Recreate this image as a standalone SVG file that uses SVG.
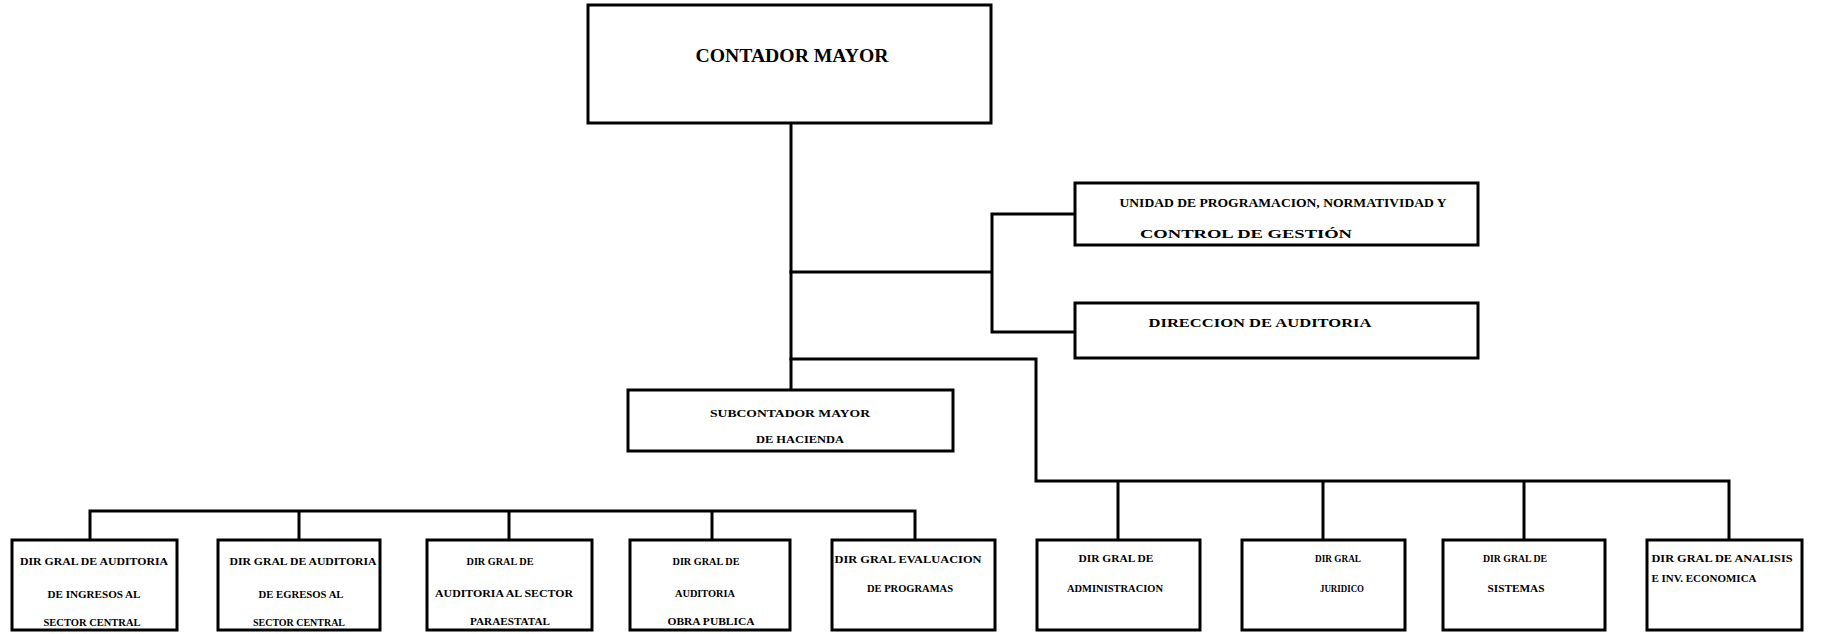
<svg xmlns="http://www.w3.org/2000/svg" width="1822" height="634" viewBox="0 0 1822 634">
  <style>
    .box { fill: #ffffff; stroke: #000000; stroke-width: 3; }
    .wire { fill: none; stroke: #000000; stroke-width: 3; stroke-linecap: square; }
    .t { font-family: "Liberation Serif", "Times New Roman", serif; font-weight: bold; fill: #000000; text-anchor: middle; }
    .big { font-size: 19px; }
    .mid { font-size: 12px; }
    .sm { font-size: 10.5px; }
  </style>
  <rect width="1822" height="634" fill="#ffffff"/>

  <!-- connectors -->
  <g id="connectors">
    <!-- main trunk -->
    <path class="wire" d="M791 123 V390"/>
    <!-- staff units -->
    <path class="wire" d="M791 272 H992 M992 214 V332 M992 214 H1075 M992 332 H1075"/>
    <!-- right-hand directorates -->
    <path class="wire" d="M791 359 H1036 V481 H1729 M1118 481 V540 M1323 481 V540 M1524 481 V540 M1729 481 V540"/>
    <!-- audit directorates -->
    <path class="wire" d="M90 511 H915 M90 511 V540 M299 511 V540 M509 511 V540 M712 511 V540 M915 511 V540"/>
  </g>

  <g id="contador-mayor">
    <rect class="box" x="588" y="5" width="403" height="118"/>
    <text class="t big" x="792" y="62" textLength="193" lengthAdjust="spacingAndGlyphs">CONTADOR MAYOR</text>
  </g>

  <g id="unidad-programacion">
    <rect class="box" x="1075" y="183" width="403" height="62"/>
    <text class="t mid" x="1283" y="207" textLength="327" lengthAdjust="spacingAndGlyphs">UNIDAD DE PROGRAMACION, NORMATIVIDAD Y</text>
    <text class="t mid" x="1246" y="238" textLength="212" lengthAdjust="spacingAndGlyphs">CONTROL DE GESTIÓN</text>
  </g>

  <g id="direccion-auditoria">
    <rect class="box" x="1075" y="303" width="403" height="55"/>
    <text class="t mid" x="1260" y="327" textLength="223" lengthAdjust="spacingAndGlyphs">DIRECCION DE AUDITORIA</text>
  </g>

  <g id="subcontador-mayor">
    <rect class="box" x="628" y="390" width="325" height="61"/>
    <text class="t sm" x="790" y="417" textLength="160" lengthAdjust="spacingAndGlyphs">SUBCONTADOR MAYOR</text>
    <text class="t sm" x="800" y="443" textLength="88" lengthAdjust="spacingAndGlyphs">DE HACIENDA</text>
  </g>

  <g id="dg-ingresos">
    <rect class="box" x="12" y="540" width="165" height="90"/>
    <text class="t sm" x="94" y="565" textLength="148" lengthAdjust="spacingAndGlyphs">DIR GRAL DE AUDITORIA</text>
    <text class="t sm" x="94" y="598" textLength="93" lengthAdjust="spacingAndGlyphs">DE INGRESOS AL</text>
    <text class="t sm" x="92" y="626" textLength="97" lengthAdjust="spacingAndGlyphs">SECTOR CENTRAL</text>
  </g>

  <g id="dg-egresos">
    <rect class="box" x="218" y="540" width="162" height="90"/>
    <text class="t sm" x="303" y="565" textLength="147" lengthAdjust="spacingAndGlyphs">DIR GRAL DE AUDITORIA</text>
    <text class="t sm" x="301" y="598" textLength="85" lengthAdjust="spacingAndGlyphs">DE EGRESOS AL</text>
    <text class="t sm" x="299" y="626" textLength="92" lengthAdjust="spacingAndGlyphs">SECTOR CENTRAL</text>
  </g>

  <g id="dg-paraestatal">
    <rect class="box" x="427" y="540" width="165" height="90"/>
    <text class="t sm" x="500" y="565" textLength="67" lengthAdjust="spacingAndGlyphs">DIR GRAL DE</text>
    <text class="t sm" x="504" y="597" textLength="138" lengthAdjust="spacingAndGlyphs">AUDITORIA AL SECTOR</text>
    <text class="t sm" x="510" y="625" textLength="80" lengthAdjust="spacingAndGlyphs">PARAESTATAL</text>
  </g>

  <g id="dg-obra-publica">
    <rect class="box" x="630" y="540" width="160" height="90"/>
    <text class="t sm" x="706" y="565" textLength="67" lengthAdjust="spacingAndGlyphs">DIR GRAL DE</text>
    <text class="t sm" x="705" y="597" textLength="60" lengthAdjust="spacingAndGlyphs">AUDITORIA</text>
    <text class="t sm" x="711" y="625" textLength="87" lengthAdjust="spacingAndGlyphs">OBRA PUBLICA</text>
  </g>

  <g id="dg-evaluacion">
    <rect class="box" x="832" y="540" width="163" height="90"/>
    <text class="t sm" x="908" y="563" textLength="147" lengthAdjust="spacingAndGlyphs">DIR GRAL EVALUACION</text>
    <text class="t sm" x="910" y="592" textLength="86" lengthAdjust="spacingAndGlyphs">DE PROGRAMAS</text>
  </g>

  <g id="dg-administracion">
    <rect class="box" x="1037" y="540" width="163" height="90"/>
    <text class="t sm" x="1116" y="562" textLength="75" lengthAdjust="spacingAndGlyphs">DIR GRAL DE</text>
    <text class="t sm" x="1115" y="592" textLength="96" lengthAdjust="spacingAndGlyphs">ADMINISTRACION</text>
  </g>

  <g id="dg-juridico">
    <rect class="box" x="1242" y="540" width="163" height="90"/>
    <text class="t sm" x="1338" y="562" textLength="46" lengthAdjust="spacingAndGlyphs">DIR GRAL</text>
    <text class="t sm" x="1342" y="592" textLength="44" lengthAdjust="spacingAndGlyphs">JURIDICO</text>
  </g>

  <g id="dg-sistemas">
    <rect class="box" x="1443" y="540" width="162" height="90"/>
    <text class="t sm" x="1515" y="562" textLength="64" lengthAdjust="spacingAndGlyphs">DIR GRAL DE</text>
    <text class="t sm" x="1516" y="592" textLength="57" lengthAdjust="spacingAndGlyphs">SISTEMAS</text>
  </g>

  <g id="dg-analisis">
    <rect class="box" x="1647" y="540" width="155" height="90"/>
    <text class="t sm" x="1722" y="562" textLength="141" lengthAdjust="spacingAndGlyphs">DIR GRAL DE ANALISIS</text>
    <text class="t sm" x="1704" y="582" textLength="105" lengthAdjust="spacingAndGlyphs">E INV. ECONOMICA</text>
  </g>
</svg>
